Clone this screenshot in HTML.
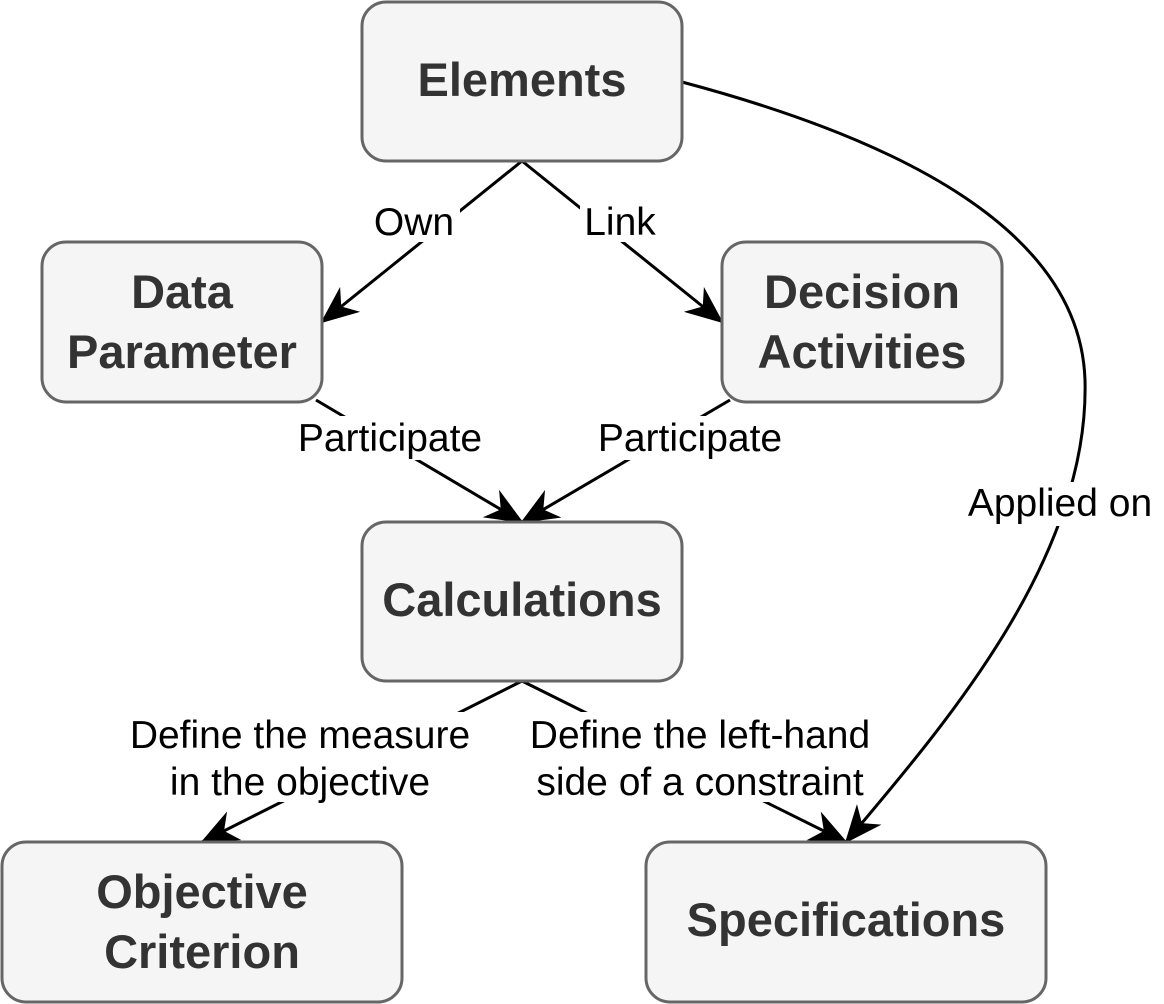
<!DOCTYPE html>
<html><head><style>
html,body{margin:0;padding:0;background:#fff;}
svg{display:block;}
.b{fill:#f5f5f5;stroke:#666;stroke-width:3;}
.t{font-family:"Liberation Sans",Arial,sans-serif;font-weight:bold;font-size:47px;fill:#333;text-anchor:middle;}
.l{font-family:"Liberation Sans",Arial,sans-serif;font-size:39px;fill:#000;text-anchor:middle;}
.e{fill:none;stroke:#000;stroke-width:3;}
</style></head><body>
<svg width="1164" height="1004" viewBox="0 0 1164 1004">
<defs>
<marker id="a" viewBox="0 0 20 20" refX="19" refY="10" markerWidth="38" markerHeight="32" markerUnits="userSpaceOnUse" orient="auto" preserveAspectRatio="none">
<path d="M0,0 L20,10 L0,20 L6,10 Z" fill="#000"/>
</marker>
</defs>
<g>
<path class="e" d="M522,161 L322,322" marker-end="url(#a)"/>
<path class="e" d="M522,161 L722,322" marker-end="url(#a)"/>
<path class="e" d="M316,400 L522,522" marker-end="url(#a)"/>
<path class="e" d="M730,400 L522,522" marker-end="url(#a)"/>
<path class="e" d="M522,681 L202,842" marker-end="url(#a)"/>
<path class="e" d="M522,681 L846,842" marker-end="url(#a)"/>
<path class="e" d="M682,82 C900,140 1080,230 1085,380 C1090,560 940,730 846,842" marker-end="url(#a)"/>
</g>
<g>
<rect x="368" y="198" width="92" height="44" fill="#fff"/><text class="l" x="414" y="235">Own</text>
<rect x="580" y="198" width="80" height="44" fill="#fff"/><text class="l" x="620" y="235">Link</text>
<rect x="295" y="416" width="190" height="44" fill="#fff"/><text class="l" x="390" y="451">Participate</text>
<rect x="595" y="416" width="190" height="44" fill="#fff"/><text class="l" x="690" y="451">Participate</text>
<rect x="125" y="712" width="350" height="90" fill="#fff"/>
<text class="l" x="300" y="748">Define the measure</text><text class="l" x="300" y="795">in the objective</text>
<rect x="525" y="712" width="350" height="90" fill="#fff"/>
<text class="l" x="700" y="748">Define the left-hand</text><text class="l" x="700" y="795">side of a constraint</text>
<rect x="963" y="482" width="194" height="44" fill="#fff"/><text class="l" x="1060" y="516">Applied on</text>
</g>
<rect class="b" x="362" y="2" width="320" height="159" rx="24"/>
<text class="t" x="522" y="96">Elements</text>
<rect class="b" x="42" y="242" width="280" height="160" rx="24"/>
<text class="t" x="182" y="308">Data</text><text class="t" x="182" y="368">Parameter</text>
<rect class="b" x="722" y="242" width="280" height="160" rx="24"/>
<text class="t" x="862" y="308">Decision</text><text class="t" x="862" y="368">Activities</text>
<rect class="b" x="362" y="522" width="320" height="159" rx="24"/>
<text class="t" x="522" y="616">Calculations</text>
<rect class="b" x="2" y="842" width="400" height="160" rx="24"/>
<text class="t" x="202" y="908">Objective</text><text class="t" x="202" y="968">Criterion</text>
<rect class="b" x="646" y="842" width="400" height="160" rx="24"/>
<text class="t" x="846" y="936">Specifications</text>
</svg>
</body></html>
